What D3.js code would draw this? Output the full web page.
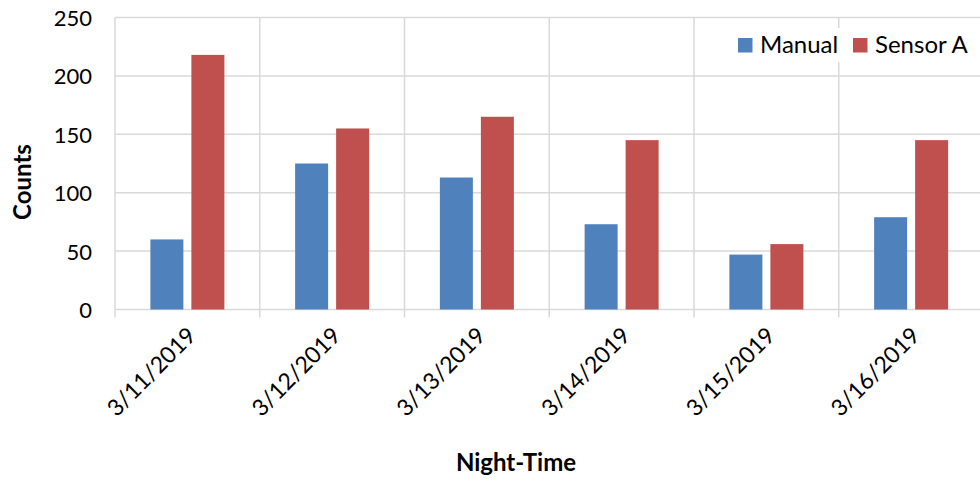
<!DOCTYPE html>
<html>
<head>
<meta charset="utf-8">
<script src="https://cdn.jsdelivr.net/npm/d3@7"></script>
<style>
  body { margin: 0; background: #fff; }
  svg text { font-family: Lato, "Open Sans", sans-serif; fill: #000; }
</style>
</head>
<body>
<svg id="chart" width="980" height="482"></svg>
<script>
const nights = ["3/11/2019", "3/12/2019", "3/13/2019", "3/14/2019", "3/15/2019", "3/16/2019"]
const seriesNames = ["Manual", "Sensor A"]
const manual = [60, 125, 113, 73, 47, 79]
const sensorA = [218, 155, 165, 145, 56, 145]
const colors = ["#4F81BD", "#C0504D"]
const yTicks = [0, 50, 100, 150, 200, 250]

const chart = d3.select('#chart')
const grid = '#d9d9d9'

const x = d3.scaleBand().domain(nights).range([115, 983.5])
const bw = x.bandwidth()
const x1 = d3.scaleBand().domain(seriesNames)
    .range([bw / 2 - 37, bw / 2 + 37]).paddingInner(8 / 41)
const y = d3.scaleLinear().domain([0, 250]).range([309.5, 17.5])

// horizontal gridlines
chart.append('g')
    .selectAll('line')
    .data(yTicks)
    .enter()
    .append('line')
    .attr('x1', 115).attr('x2', 983.5)
    .attr('y1', d => y(d)).attr('y2', d => y(d))
    .attr('stroke', grid).attr('stroke-width', 1.5)

// vertical gridlines (category boundaries), running a bit below the baseline
chart.append('g')
    .selectAll('line')
    .data(nights)
    .enter()
    .append('line')
    .attr('x1', d => x(d)).attr('x2', d => x(d))
    .attr('y1', y(250)).attr('y2', y(0) + 8)
    .attr('stroke', grid).attr('stroke-width', 1.5)

// bars
const rows = nights.map((n, i) => ({ night: n, values: [manual[i], sensorA[i]] }))
chart.append('g')
    .selectAll('g')
    .data(rows)
    .enter()
    .append('g')
    .attr('transform', d => `translate(${x(d.night)},0)`)
    .selectAll('rect')
    .data(d => d.values.map((v, j) => ({ name: seriesNames[j], value: v, color: colors[j] })))
    .enter()
    .append('rect')
    .attr('x', d => x1(d.name))
    .attr('width', x1.bandwidth())
    .attr('y', d => y(d.value))
    .attr('height', d => y(0) - y(d.value))
    .attr('fill', d => d.color)

// y axis labels
const yAxis = d3.axisLeft(y).tickValues(yTicks).tickSize(0).tickPadding(0)
const ya = chart.append('g')
    .attr('transform', 'translate(92,0)')
    .call(yAxis)
ya.select('.domain').remove()
ya.selectAll('text')
    .style('font-family', 'Lato, sans-serif')
    .style('font-size', '22px')
    .attr('fill', '#000')
    .attr('dy', '0.36em')

// x axis labels, rotated
chart.append('g')
    .selectAll('text')
    .data(nights)
    .enter()
    .append('text')
    .text(d => d)
    .attr('text-anchor', 'end')
    .attr('transform', d => `translate(${x(d) + bw / 2 + 10},${337}) rotate(-45)`)
    .style('font-size', '23px')

// axis titles
chart.append('text')
    .text('Counts')
    .attr('text-anchor', 'middle')
    .attr('transform', 'translate(31,182) rotate(-90)')
    .style('font-size', '24px')
    .style('font-weight', 'bold')

chart.append('text')
    .text('Night-Time')
    .attr('x', 516).attr('y', 471)
    .attr('text-anchor', 'middle')
    .style('font-size', '24px')
    .style('font-weight', 'bold')

// legend
const legend = chart.append('g')
legend.append('rect')
    .attr('x', 734).attr('y', 28).attr('width', 240).attr('height', 34)
    .attr('fill', '#fff')
const legendX = [738, 853]
legend.selectAll('.key')
    .data(seriesNames)
    .enter()
    .append('rect')
    .attr('class', 'key')
    .attr('x', (d, i) => legendX[i]).attr('y', 38)
    .attr('width', 14.5).attr('height', 14.5)
    .attr('fill', (d, i) => colors[i])
legend.selectAll('.lbl')
    .data(seriesNames)
    .enter()
    .append('text')
    .attr('class', 'lbl')
    .text(d => d)
    .attr('x', (d, i) => legendX[i] + 22).attr('y', 53)
    .style('font-size', '24px')
</script>
</body>
</html>
